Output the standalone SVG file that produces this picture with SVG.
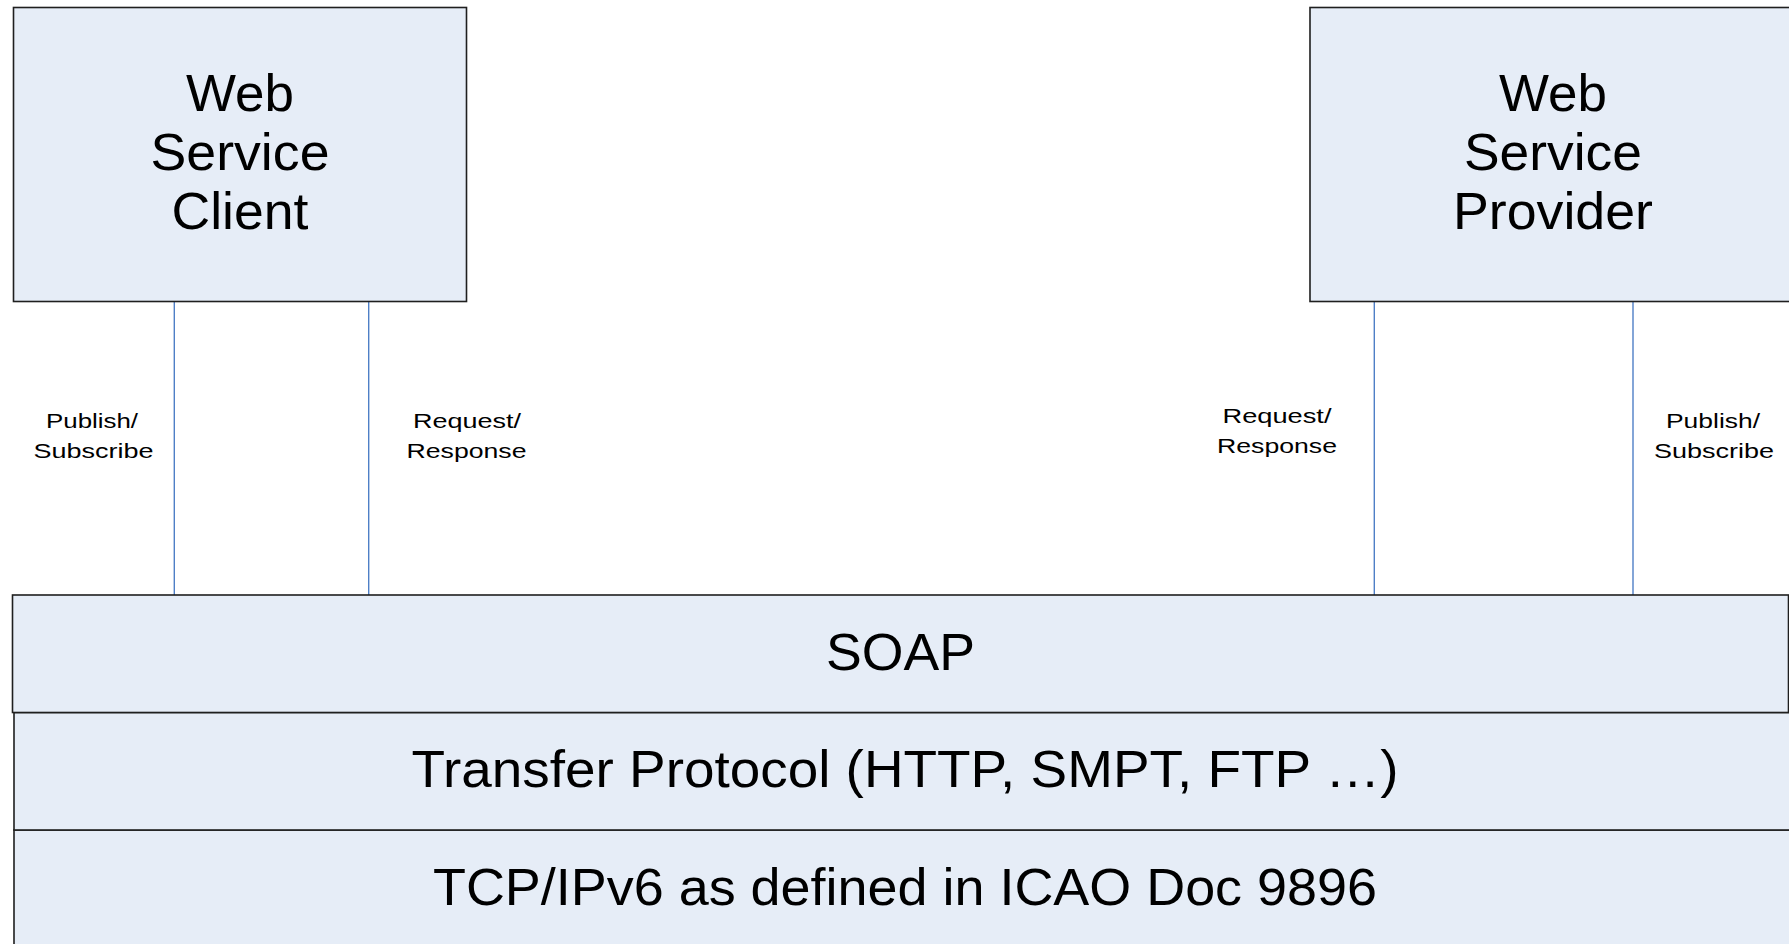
<svg xmlns="http://www.w3.org/2000/svg" width="1789" height="944" viewBox="0 0 1789 944">
<style>
.box{fill:#E6EDF7;stroke:#1F1F1F;stroke-width:1.6}
.big{font-family:"Liberation Sans",Arial,sans-serif;font-size:52px;fill:#000;text-anchor:middle}
.sm{font-family:"Liberation Sans",Arial,sans-serif;font-size:21px;fill:#000;text-anchor:middle}
.conn{stroke:#4F7FC6;stroke-width:1.4;fill:none}
</style>
<rect width="1789" height="944" fill="#fff"/>
<g id="connectors">
<line class="conn" x1="174.3" y1="302" x2="174.3" y2="595"/>
<line class="conn" x1="368.7" y1="302" x2="368.7" y2="595"/>
<line class="conn" x1="1374.3" y1="302" x2="1374.3" y2="595"/>
<line class="conn" x1="1633" y1="302" x2="1633" y2="595"/>
</g>
<g id="client">
<rect class="box" x="13.5" y="7.5" width="453" height="294"/>
<text class="big" x="240" y="111" textLength="108" lengthAdjust="spacingAndGlyphs">Web</text>
<text class="big" x="240" y="170" textLength="179" lengthAdjust="spacingAndGlyphs">Service</text>
<text class="big" x="240" y="229" textLength="137" lengthAdjust="spacingAndGlyphs">Client</text>
</g>
<g id="provider">
<rect class="box" x="1310" y="7.5" width="490" height="294"/>
<text class="big" x="1553" y="111" textLength="108" lengthAdjust="spacingAndGlyphs">Web</text>
<text class="big" x="1553" y="170" textLength="178" lengthAdjust="spacingAndGlyphs">Service</text>
<text class="big" x="1553" y="229" textLength="200" lengthAdjust="spacingAndGlyphs">Provider</text>
</g>
<g id="tcp">
<rect class="box" x="14" y="830" width="1790" height="130"/>
<text class="big" x="905" y="905" textLength="944" lengthAdjust="spacingAndGlyphs">TCP/IPv6 as defined in ICAO Doc 9896</text>
</g>
<g id="transfer">
<rect class="box" x="14" y="712.5" width="1790" height="117.5"/>
<text class="big" x="905" y="787" textLength="987" lengthAdjust="spacingAndGlyphs">Transfer Protocol (HTTP, SMPT, FTP …)</text>
</g>
<g id="soap">
<rect class="box" x="12.5" y="595" width="1776" height="117.5"/>
<text class="big" x="900.5" y="670" textLength="149" lengthAdjust="spacingAndGlyphs">SOAP</text>
</g>
<g id="labels">
<text class="sm" x="92" y="428" textLength="92" lengthAdjust="spacingAndGlyphs">Publish/</text>
<text class="sm" x="93.5" y="458" textLength="120" lengthAdjust="spacingAndGlyphs">Subscribe</text>
<text class="sm" x="467" y="428" textLength="108" lengthAdjust="spacingAndGlyphs">Request/</text>
<text class="sm" x="466.5" y="458" textLength="120" lengthAdjust="spacingAndGlyphs">Response</text>
<text class="sm" x="1277" y="423" textLength="109" lengthAdjust="spacingAndGlyphs">Request/</text>
<text class="sm" x="1277" y="453" textLength="120" lengthAdjust="spacingAndGlyphs">Response</text>
<text class="sm" x="1713" y="428" textLength="94" lengthAdjust="spacingAndGlyphs">Publish/</text>
<text class="sm" x="1714" y="458" textLength="120" lengthAdjust="spacingAndGlyphs">Subscribe</text>
</g>
</svg>
